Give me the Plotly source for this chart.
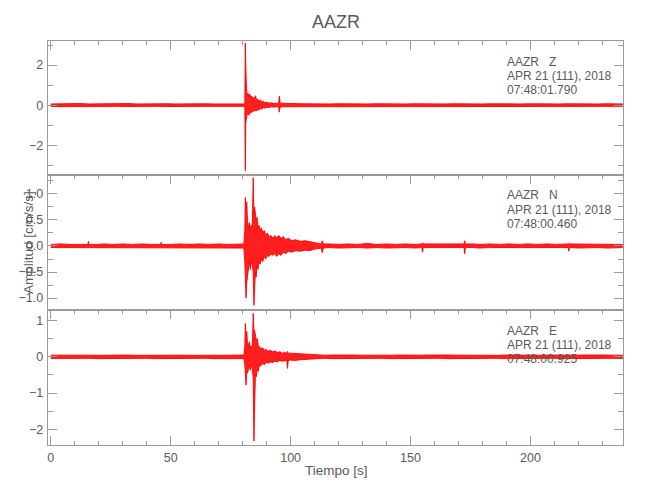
import plotly.graph_objects as go

# ---------------- data (envelope of each trace) ----------------
z_t = [0, 4, 8, 12, 16, 20, 24, 28, 32, 36, 40, 44, 48, 52, 56, 60, 64, 68, 72, 76,
       80.5, 80.9, 81.1, 81.3, 81.5, 81.8, 82.2, 82.6, 83.0, 83.4, 83.8, 84.2, 84.6, 85.0,
       85.4, 85.8, 86.2, 86.8, 87.4, 88.0, 88.6, 89.3, 90.0, 91, 92, 93, 94, 95.0, 95.3,
       95.6, 96.5, 98, 100, 104, 108, 112, 116, 120, 124, 128, 132, 136, 140, 144, 148,
       152, 156, 160, 164, 168, 172, 176, 180, 184, 188, 192, 196, 200, 204, 208, 212,
       216, 220, 224, 228, 232, 236, 238.5]
z_hi = [.06, .07, .06, .08, .06, .07, .06, .07, .08, .06, .07, .06, .07, .06, .07, .06, .07, .06, .07, .06,
        .06, .10, 3.1, 2.0, 1.2, 0.5, 0.6, 0.4, 0.55, 0.35, 0.45, 0.3, 0.4, 0.35,
        0.47, 0.25, 0.3, 0.2, 0.25, 0.15, 0.2, 0.12, 0.15, 0.1, 0.12, 0.08, 0.1, 0.08, 0.45,
        0.1, 0.1, 0.08, 0.08, .07, .06, .07, .06, .07, .06, .07, .06, .07, .06, .07, .06,
        .07, .06, .07, .06, .07, .06, .07, .06, .07, .06, .07, .06, .07, .06, .07, .06,
        .07, .06, .07, .06, .07, .06, .06]
z_lo = [-.07, -.06, -.06, -.07, -.07, -.06, -.08, -.06, -.07, -.06, -.07, -.06, -.07, -.06, -.07, -.07, -.06, -.06, -.07, -.06,
        -.06, -.10, -3.27, -0.9, -0.6, -0.5, -0.45, -0.5, -0.35, -0.4, -0.3, -0.35, -0.25, -0.3,
        -0.25, -0.3, -0.2, -0.25, -0.15, -0.2, -0.12, -0.15, -0.1, -0.12, -0.08, -0.1, -0.08, -0.08, -0.35,
        -0.1, -0.08, -0.08, -0.07, -.06, -.07, -.06, -.06, -.07, -.06, -.06, -.07, -.06, -.06, -.07, -.06,
        -.06, -.07, -.06, -.06, -.07, -.06, -.06, -.07, -.06, -.06, -.07, -.06, -.06, -.07, -.06, -.06,
        -.07, -.06, -.06, -.07, -.06, -.06, -.06]

n_t = [0, 4, 8, 12, 15.4, 15.7, 16.0, 19, 22, 26, 30, 34, 38, 42, 45.7, 46.0, 46.3, 50, 54, 58, 62, 66, 70, 74, 78,
       80.5, 80.9, 81.1, 81.4, 81.7, 82.0, 82.4, 82.8, 83.2, 83.6, 84.0, 84.4, 84.7, 85.0,
       85.3, 85.6, 86.0, 86.4, 86.8, 87.3, 87.8, 88.4, 89.0, 89.6, 90.3, 91.0, 91.8, 92.6,
       93.4, 94.2, 95.0, 96.0, 97.0, 98.0, 99.0, 100.5, 102, 104, 106, 108,
       110, 112.8, 113.2, 113.6, 116, 120, 124, 128, 132, 136, 140, 144, 148, 152, 154.7, 155, 155.3,
       158, 162, 166, 170, 172.3, 172.6, 172.9, 176, 179, 183, 187, 191, 195, 199, 203, 207, 211,
       215.7, 216, 216.3, 220, 224, 228, 232, 236, 238.5]
n_hi = [.03, .04, .03, .03, .03, .09, .03, .03, .04, .03, .04, .03, .04, .03, .03, .07, .03, .03, .04, .03, .04, .03, .04, .03, .04,
        .04, 0.3, 0.93, 0.7, 0.85, 0.5, 0.35, 0.45, 0.3, 0.4, 0.35, 1.31, 0.6, 0.75,
        0.6, 0.5, 0.55, 0.35, 0.4, 0.3, 0.35, 0.25, 0.3, 0.2, 0.25, 0.18, 0.2, 0.15,
        0.2, 0.16, 0.2, 0.15, 0.18, 0.12, 0.15, 0.1, 0.12, 0.09, 0.1, 0.08,
        .06, .04, .10, .04, .04, .03, .04, .03, .05, .03, .04, .03, .04, .03, .04, .06, .04,
        .04, .03, .04, .03, .04, .10, .04, .04, .03, .04, .03, .04, .03, .04, .03, .04, .03,
        .04, .05, .04, .04, .03, .04, .03, .04, .03]
n_lo = [-.03, -.03, -.04, -.03, -.03, -.04, -.03, -.03, -.03, -.04, -.03, -.03, -.04, -.03, -.03, -.04, -.03, -.03, -.03, -.04, -.03, -.03, -.04, -.03, -.03,
        -.04, -0.3, -0.6, -1.0, -0.7, -0.55, -0.4, -0.3, -0.45, -0.3, -0.35, -0.5, -1.14, -0.7,
        -0.5, -0.6, -0.4, -0.45, -0.3, -0.35, -0.25, -0.3, -0.2, -0.25, -0.18, -0.2, -0.15, -0.18,
        -0.15, -0.2, -0.15, -0.18, -0.12, -0.15, -0.1, -0.12, -0.09, -0.1, -0.08, -0.09,
        -.06, -.04, -.13, -.04, -.03, -.04, -.03, -.03, -.04, -.03, -.04, -.03, -.03, -.04, -.03, -.12, -.03,
        -.03, -.03, -.04, -.03, -.03, -.15, -.03, -.03, -.04, -.03, -.03, -.04, -.03, -.03, -.04, -.03, -.03,
        -.03, -.10, -.03, -.04, -.03, -.03, -.04, -.03, -.03]

e_t = [0, 4, 8, 12, 16, 20, 24, 28, 32, 36, 40, 44, 48, 52, 56, 60, 64, 68, 72, 76,
       80.5, 80.9, 81.1, 81.4, 81.7, 82.0, 82.4, 82.8, 83.2, 83.6, 84.0, 84.4, 84.7, 85.0,
       85.3, 85.7, 86.1, 86.5, 87.0, 87.6, 88.3, 89.0, 89.8, 90.6, 91.5, 92.5, 93.5, 94.5,
       95.5, 96.5, 97.5, 98.4, 98.7, 99.0, 100, 102, 104, 106, 108, 110, 114, 118, 122,
       126, 130, 134, 138, 142, 146, 150, 154, 158, 162, 166, 170, 174, 178, 182, 186,
       190, 194, 198, 202, 206, 210, 214, 218, 222, 226, 230, 234, 238.5]
e_hi = [.045, .05, .04, .05, .045, .04, .05, .045, .05, .04, .045, .05, .04, .05, .045, .04, .05, .045, .04, .05,
        .05, 0.3, 0.92, 0.6, 0.7, 0.4, 0.3, 0.41, 0.25, 0.3, 0.25, 1.2, 0.7, 0.73,
        0.55, 0.45, 0.5, 0.3, 0.28, 0.22, 0.25, 0.18, 0.2, 0.15, 0.18, 0.14, 0.16, 0.12,
        0.14, 0.1, 0.12, 0.1, 0.15, 0.1, 0.1, 0.09, 0.08, 0.08, 0.07, 0.05, .045, .05, .04,
        .05, .045, .04, .05, .045, .05, .04, .045, .05, .04, .05, .045, .04, .05, .045, .04,
        .05, .045, .04, .05, .045, .05, .04, .045, .05, .04, .05, .045, .045]
e_lo = [-.045, -.04, -.05, -.045, -.04, -.05, -.045, -.04, -.05, -.045, -.04, -.05, -.045, -.04, -.05, -.045, -.04, -.05, -.045, -.04,
        -.05, -0.2, -0.5, -0.78, -0.4, -0.45, -0.35, -0.25, -0.37, -0.25, -0.3, -0.6, -2.32, -0.69,
        -0.5, -0.55, -0.35, -0.4, -0.23, -0.25, -0.18, -0.22, -0.15, -0.18, -0.14, -0.16, -0.12, -0.14,
        -0.1, -0.12, -0.1, -0.1, -0.32, -0.1, -0.09, -0.1, -0.08, -0.07, -0.07, -0.05, -.04, -.05, -.045,
        -.04, -.05, -.045, -.04, -.05, -.045, -.04, -.05, -.045, -.04, -.05, -.045, -.04, -.05, -.045, -.04,
        -.05, -.045, -.04, -.05, -.045, -.04, -.05, -.045, -.04, -.05, -.045, -.04, -.045]

title_text = "AAZR"
channel_labels = ["AAZR\u00a0\u00a0\u00a0Z", "AAZR\u00a0\u00a0\u00a0N", "AAZR\u00a0\u00a0\u00a0E"]
date_labels = ["APR 21 (111), 2018"] * 3
time_labels = ["07:48:01.790", "07:48:00.460", "07:48:00.925"]
x_title = "Tiempo [s]"
y_title = "Amplitud [cm/s/s]"

for a, b, c in [(z_t, z_hi, z_lo), (n_t, n_hi, n_lo), (e_t, e_hi, e_lo)]:
    assert len(a) == len(b) == len(c), (len(a), len(b), len(c))

# ---------------- styling ----------------
OFF = 8  # the page body adds an 8px margin; reference pixels are shifted by it
W, H = 650 - 2 * OFF, 500 - 2 * OFF
FONT = "Liberation Sans Narrow, Liberation Sans, Arial, sans-serif"
TXT = "#5a5a5a"
AX = "#9a9a9a"
RED = "#ff0000"


def fx(px):
    return (px - OFF) / W


def fy(py):
    return 1 - (py - OFF) / H


x_left, x_right = 47.7, 623.0
panels_px = [(41.0, 174.7), (174.7, 310.0), (310.0, 445.0)]
yranges = [[-3.47, 3.2], [-1.23, 1.37], [-2.43, 1.29]]
ydticks = [(2, 1), (0.5, 0.25), (1, 0.5)]
yfmts = ["d", ".1f", "d"]
xrange_ = [-1.3, 238.6]

fig = go.Figure()
series = [(z_t, z_hi, z_lo), (n_t, n_hi, n_lo), (e_t, e_hi, e_lo)]
for i, (t, hi, lo) in enumerate(series):
    xa = "x" if i == 0 else f"x{i+1}"
    ya = "y" if i == 0 else f"y{i+1}"
    fig.add_trace(go.Scatter(x=t, y=hi, mode="lines", line=dict(color=RED, width=0.9),
                             xaxis=xa, yaxis=ya, hoverinfo="skip"))
    fig.add_trace(go.Scatter(x=t, y=lo, mode="lines", line=dict(color=RED, width=0.9),
                             fill="tonexty", fillcolor="rgba(255,0,0,0.88)",
                             xaxis=xa, yaxis=ya, hoverinfo="skip"))

layout = dict(
    width=W, height=H, margin=dict(l=0, r=0, t=0, b=0, autoexpand=False),
    paper_bgcolor="white", plot_bgcolor="white", showlegend=False,
    font=dict(family=FONT, color=TXT, size=12.5),
)
for i, (top, bot) in enumerate(panels_px):
    dom_y = [fy(bot), fy(top)]
    dom_x = [fx(x_left), fx(x_right)]
    last = i == 2
    xkey = "xaxis" if i == 0 else f"xaxis{i+1}"
    ykey = "yaxis" if i == 0 else f"yaxis{i+1}"
    ya_name = "y" if i == 0 else f"y{i+1}"
    xa_name = "x" if i == 0 else f"x{i+1}"
    layout[xkey] = dict(
        domain=dom_x, anchor=ya_name, range=xrange_, showgrid=False, zeroline=False,
        showline=True, linecolor=AX, linewidth=1,
        ticks="inside", ticklen=9, tickcolor=AX, tickwidth=1,
        tick0=0, dtick=50,
        minor=dict(dtick=10, ticklen=4, ticks="inside", tickcolor=AX, showgrid=False),
        side="bottom" if last else "top",
        mirror="allticks" if last else True,
        showticklabels=last,
        tickfont=dict(family=FONT, size=12.5, color=TXT),
        ticklabelstandoff=1,
    )
    if i > 0:
        layout[xkey]["matches"] = "x"
    d, m = ydticks[i]
    layout[ykey] = dict(
        domain=dom_y, anchor=xa_name, range=yranges[i], showgrid=False, zeroline=False,
        showline=True, linecolor=AX, linewidth=1, mirror="allticks",
        ticks="inside", ticklen=9, tickcolor=AX, tickwidth=1,
        tick0=0, dtick=d, tickformat=yfmts[i],
        minor=dict(dtick=m, ticklen=5, ticks="inside", tickcolor=AX, showgrid=False),
        tickfont=dict(family=FONT, size=12.5, color=TXT),
        ticklabelstandoff=1,
    )
fig.update_layout(**layout)

ann = []
ann.append(dict(text=title_text, x=fx(336), y=fy(22), xref="paper", yref="paper",
                showarrow=False, xanchor="center", yanchor="middle",
                font=dict(family=FONT, size=18, color=TXT)))
for i, (top, bot) in enumerate(panels_px):
    for j, txt in enumerate([channel_labels[i], date_labels[i], time_labels[i]]):
        ann.append(dict(text=txt, x=fx(505), y=fy(top + 20.5 + 14.3 * j),
                        xref="paper", yref="paper", showarrow=False,
                        xanchor="left", yanchor="middle",
                        font=dict(family=FONT, size=12, color=TXT)))
ann.append(dict(text=x_title, x=fx(336), y=fy(470), xref="paper", yref="paper",
                showarrow=False, xanchor="center", yanchor="middle",
                font=dict(family=FONT, size=13.5, color=TXT)))
ann.append(dict(text=y_title, x=fx(28), y=fy(243), xref="paper", yref="paper",
                showarrow=False, xanchor="center", yanchor="middle", textangle=-90,
                font=dict(family=FONT, size=13.5, color=TXT)))
fig.update_layout(annotations=ann)

fig.write_html("out.html")
